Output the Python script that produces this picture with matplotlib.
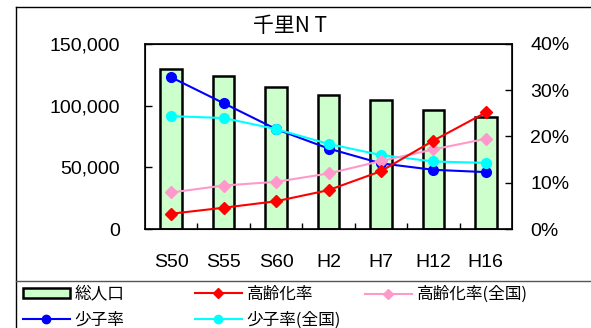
import matplotlib
matplotlib.use('Agg')

import matplotlib.pyplot as plt
from matplotlib.lines import Line2D
from matplotlib.patches import Rectangle
from matplotlib.ticker import FuncFormatter, MultipleLocator
import numpy as np

plt.rcParams['font.family'] = ['Liberation Sans', 'Noto Sans CJK JP']

# Data
years = ['S50', 'S55', 'S60', 'H2', 'H7', 'H12', 'H16']
population = [129500, 124300, 115100, 108400, 104900, 96200, 91100]
aging = [3.3, 4.6, 6.0, 8.4, 12.5, 19.1, 25.2]
aging_nat = [7.9, 9.4, 10.2, 12.0, 14.7, 17.2, 19.5]
child = [32.8, 27.2, 21.6, 17.4, 14.2, 12.8, 12.3]
child_nat = [24.4, 24.0, 21.6, 18.4, 16.0, 14.6, 14.3]

W, H = 591, 328
fig = plt.figure(figsize=(W / 100, H / 100), dpi=100)

# outer frame + legend separator
fig.add_artist(Line2D([16 / W, 16 / W], [0, 1 - 7 / H], transform=fig.transFigure,
                      color='black', lw=1))
fig.add_artist(Line2D([16 / W, 1], [1 - 7 / H, 1 - 7 / H], transform=fig.transFigure,
                      color='black', lw=1))
fig.add_artist(Line2D([16 / W, 1], [1 - 281 / H, 1 - 281 / H], transform=fig.transFigure,
                      color='#555555', lw=1))

ax = fig.add_axes([145 / W, 1 - 229 / H, (512 - 145) / W, (229 - 44) / H])
x = np.arange(len(years))

ax.bar(x, population, width=0.41, color='#ccffcc', edgecolor='black', linewidth=1.8, zorder=2)
ax.set_xlim(-0.5, len(years) - 0.5)
ax.set_ylim(0, 150000)
ax.yaxis.set_major_locator(MultipleLocator(50000))
ax.yaxis.set_major_formatter(FuncFormatter(lambda v, p: f'{int(v):,}'))
ax.set_xticks(x)
ax.set_xticklabels(years)
ax.set_xticks(x[:-1] + 0.5, minor=True)
ax.tick_params(axis='x', which='major', length=0, pad=18, labelsize=14)
ax.tick_params(axis='x', which='minor', direction='in', length=4, width=1)
ax.tick_params(axis='y', direction='in', length=5, width=1, pad=18, labelsize=14)
for s in ax.spines.values():
    s.set_linewidth(1.2)

ax2 = ax.twinx()
ax2.set_ylim(0, 40)
ax2.yaxis.set_major_locator(MultipleLocator(10))
ax2.yaxis.set_major_formatter(FuncFormatter(lambda v, p: f'{int(v)}%'))
ax2.tick_params(axis='y', direction='in', length=5, width=1, pad=13, labelsize=14)

ax2.plot(x, child, color='#0000ff', marker='o', ms=7, lw=1.5, zorder=3)
ax2.plot(x, child_nat, color='#00ffff', marker='o', ms=7, lw=1.5, zorder=3)
ax2.plot(x, aging_nat, color='#ff99cc', marker='D', ms=6, lw=1.5, zorder=3)
ax2.plot(x, aging, color='#ff0000', marker='D', ms=6, lw=1.5, zorder=3)

fig.text(290 / W, 1 - 26 / H, '千里N T', ha='center', va='center', fontsize=15,
         family=['Noto Sans CJK JP'])

# legend, drawn as three columns
cjk = {'family': ['Noto Sans CJK JP'], 'size': 12}
col1 = [Rectangle((0, 0), 1, 1, facecolor='#ccffcc', edgecolor='black', lw=1.8),
        Line2D([], [], color='#0000ff', marker='o', ms=6, lw=1.5)]
col2 = [Line2D([], [], color='#ff0000', marker='D', ms=5, lw=1.5),
        Line2D([], [], color='#00ffff', marker='o', ms=6, lw=1.5)]
col3 = [Line2D([], [], color='#ff99cc', marker='D', ms=5, lw=1.5)]
cols = [(col1, ['総人口', '少子率'], 23),
        (col2, ['高齢化率', '少子率(全国)'], 195),
        (col3, ['高齢化率(全国)'], 365)]
for hs, labels, x0 in cols:
    fig.legend(hs, labels, loc='upper left', bbox_to_anchor=(x0 / W, 1 - 286 / H),
               frameon=False, prop=cjk, borderpad=0, borderaxespad=0,
               handlelength=2.8, handleheight=0.6, handletextpad=0.3, labelspacing=0.5)

plt.savefig('out.png', dpi=100)
